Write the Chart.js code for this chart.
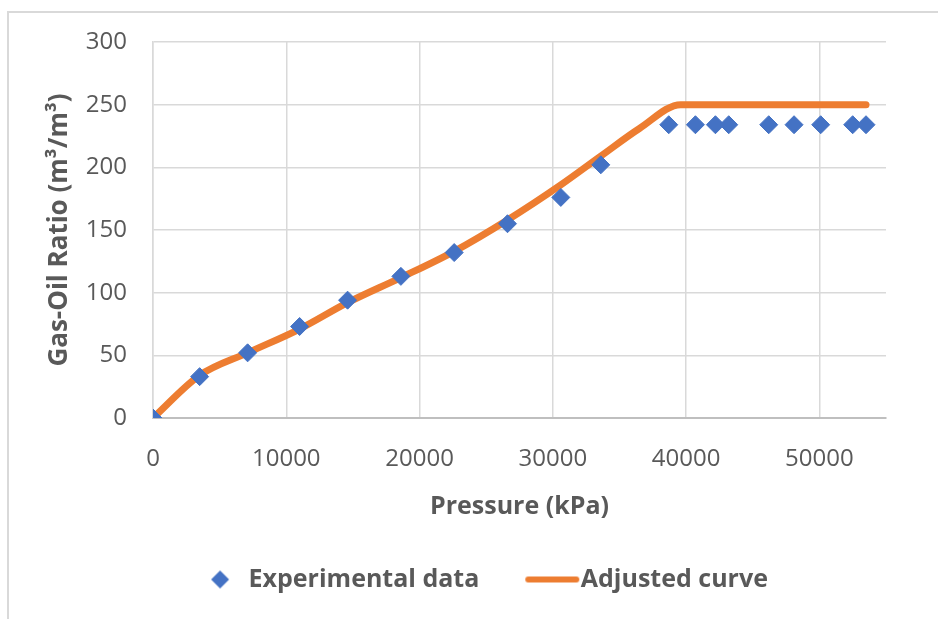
<!DOCTYPE html>
<html>
<head>
<meta charset="utf-8">
<script src="https://cdn.jsdelivr.net/npm/chart.js@4"></script>
<style>
  html, body { margin: 0; padding: 0; background: #fff; overflow: hidden; }
  .frame { position: absolute; left: 7px; top: 11px; width: 1000px; height: 700px; border: 2px solid #d9d9d9; box-sizing: border-box; }
  .chart-wrapper { position: absolute; left: 0; top: 0; width: 938px; height: 619px; }
</style>
</head>
<body>
<div class="frame"></div>
<div class="chart-wrapper"><canvas id="myChart"></canvas></div>
<script>
// experimental measurements
const expPressure = [0, 3500, 7100, 11000, 14600, 18600, 22600, 26600, 30600, 33600,
    38700, 40700, 42200, 43200, 46200, 48100, 50100, 52500, 53500];
const expGOR = [0, 33, 52, 73, 94, 113, 132, 155, 176, 202,
    234, 234, 234, 234, 234, 234, 234, 234, 234];

// fitted curve
const curvePressure = [0, 3500, 7100, 11000, 14600, 18600, 22600, 26600, 30600, 33600, 36500, 39600, 40500, 53500];
const curveGOR = [0, 34, 52, 71, 92, 112, 133, 158, 186, 209, 231, 250, 250, 250];

const xTicks = [0, 10000, 20000, 30000, 40000, 50000];

const toPoints = (xs, ys) => xs.map((x, i) => ({ x: x, y: ys[i] }));

const blue = '#4472C4';
const orange = '#ED7D31';
const textColor = '#595959';
const gridColor = '#d9d9d9';
const font = 'Open Sans';

// legend markers drawn as small images so their size and offset can be set
const makeMarker = (w, h, draw) => {
    const c = document.createElement('canvas');
    c.width = w;
    c.height = h;
    draw(c.getContext('2d'));
    return c;
};
const diamondMarker = makeMarker(48, 24, (g) => {
    g.fillStyle = blue;
    g.beginPath();
    g.moveTo(37, 3); g.lineTo(46, 12); g.lineTo(37, 21); g.lineTo(28, 12);
    g.closePath();
    g.fill();
});
const lineMarker = makeMarker(86, 24, (g) => {
    g.strokeStyle = orange;
    g.lineWidth = 6;
    g.lineCap = 'round';
    g.beginPath();
    g.moveTo(32, 12); g.lineTo(80, 12);
    g.stroke();
});
const legendMarkers = [diamondMarker, lineMarker];

const ctx = document.getElementById('myChart').getContext('2d');
new Chart(ctx, {
    type: 'scatter',
    data: {
        datasets: [{
            label: 'Experimental data',
            data: toPoints(expPressure, expGOR),
            backgroundColor: blue,
            borderColor: blue,
            borderWidth: 1,
            pointStyle: 'rectRot',
            pointRadius: 9,
            showLine: false
        }, {
            label: 'Adjusted curve',
            data: toPoints(curvePressure, curveGOR),
            borderColor: orange,
            backgroundColor: orange,
            borderWidth: 7,
            borderCapStyle: 'round',
            pointRadius: 0,
            showLine: true,
            cubicInterpolationMode: 'monotone'
        }]
    },
    options: {
        responsive: true,
        maintainAspectRatio: false,
        animation: false,
        layout: { padding: { top: 42, right: 52, left: 60, bottom: 17 } },
        plugins: {
            tooltip: { enabled: false },
            legend: {
                position: 'bottom',
                labels: {
                    usePointStyle: true,
                    pointStyleWidth: 58,
                    boxHeight: 22,
                    color: textColor,
                    font: { family: font, size: 25, weight: 'bold' },
                    padding: 31,
                    generateLabels: (chart) => {
                        const items = Chart.defaults.plugins.legend.labels.generateLabels(chart);
                        items.forEach((item, i) => { item.pointStyle = legendMarkers[i]; });
                        return items;
                    }
                }
            }
        },
        scales: {
            x: {
                type: 'linear',
                min: 0,
                max: 55000,
                afterBuildTicks: (scale) => {
                    scale.ticks = xTicks.map(v => ({ value: v }));
                },
                afterFit: (scale) => { scale.height = 118; },
                grid: { color: gridColor, lineWidth: 1.5, drawTicks: false },
                border: { color: '#bfbfbf', width: 2 },
                ticks: {
                    color: textColor,
                    padding: 27,
                    font: { family: font, size: 24 },
                    callback: (v) => String(v)
                },
                title: {
                    display: true,
                    text: 'Pressure (kPa)',
                    color: textColor,
                    font: { family: font, size: 25, weight: 'bold' },
                    padding: { top: 0, bottom: 14 }
                }
            },
            y: {
                min: 0,
                max: 300,
                ticks: {
                    stepSize: 50,
                    color: textColor,
                    padding: 26,
                    font: { family: font, size: 24 }
                },
                afterFit: (scale) => { scale.width = 93; },
                grid: { color: gridColor, lineWidth: 1.5, drawTicks: false },
                border: { color: gridColor, width: 1.5 },
                title: {
                    display: true,
                    text: 'Gas-Oil Ratio (m³/m³)',
                    color: textColor,
                    font: { family: font, size: 26, weight: 'bold' },
                    padding: { top: -16, bottom: 0 }
                }
            }
        }
    }
});
</script>
</body>
</html>
